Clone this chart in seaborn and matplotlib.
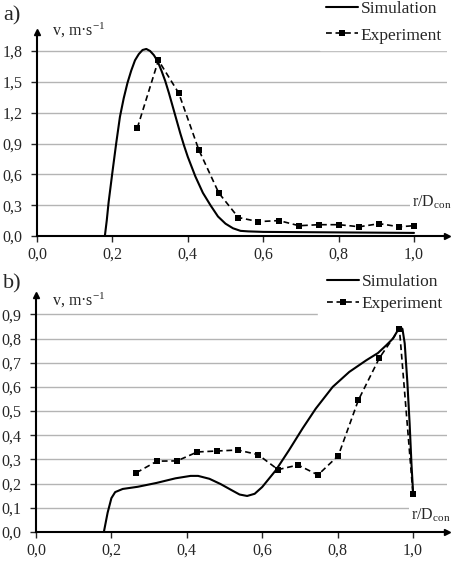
import matplotlib
matplotlib.use("Agg")
import matplotlib.pyplot as plt
import seaborn as sns

# ---- panel a) ----
a_sim_x = [0.18, 0.185, 0.19, 0.20, 0.21, 0.22, 0.23, 0.24, 0.25, 0.26, 0.27, 0.28, 0.29,
           0.30, 0.31, 0.32, 0.33, 0.34, 0.35, 0.36, 0.37, 0.38, 0.39, 0.40, 0.42, 0.44,
           0.46, 0.48, 0.50, 0.52, 0.54, 0.56, 0.60, 0.80, 1.00]
a_sim_v = [0.0, 0.15, 0.33, 0.62, 0.90, 1.16, 1.34, 1.49, 1.61, 1.71, 1.77, 1.81, 1.82,
           1.80, 1.76, 1.70, 1.61, 1.51, 1.39, 1.26, 1.13, 1.00, 0.88, 0.77, 0.58, 0.42,
           0.30, 0.19, 0.12, 0.075, 0.05, 0.045, 0.04, 0.035, 0.03]
a_exp_x = [0.266, 0.322, 0.376, 0.429, 0.482, 0.534, 0.587, 0.642, 0.695, 0.748,
           0.801, 0.855, 0.908, 0.960, 1.000]
a_exp_v = [1.05, 1.71, 1.39, 0.84, 0.42, 0.18, 0.14, 0.15, 0.10, 0.11,
           0.11, 0.09, 0.12, 0.09, 0.10]
a_yticks = [0.0, 0.3, 0.6, 0.9, 1.2, 1.5, 1.8]

# ---- panel b) ----
b_sim_x = [0.18, 0.19, 0.20, 0.21, 0.23, 0.27, 0.32, 0.37, 0.41, 0.43, 0.46, 0.49, 0.52,
           0.54, 0.56, 0.58, 0.60, 0.636, 0.671, 0.707, 0.742, 0.787, 0.831, 0.876,
           0.907, 0.929, 0.947, 0.960, 0.967, 0.972, 0.978, 0.985, 0.991, 0.996, 1.000]
b_sim_v = [0.0, 0.08, 0.14, 0.165, 0.178, 0.187, 0.203, 0.222, 0.232, 0.232, 0.22, 0.198,
           0.172, 0.155, 0.149, 0.158, 0.186, 0.255, 0.338, 0.428, 0.51, 0.60, 0.662,
           0.71, 0.74, 0.772, 0.80, 0.835, 0.845, 0.84, 0.78, 0.62, 0.45, 0.28, 0.17]
b_exp_x = [0.266, 0.321, 0.374, 0.428, 0.481, 0.535, 0.589, 0.642, 0.695, 0.748,
           0.802, 0.855, 0.911, 0.964, 1.000]
b_exp_v = [0.245, 0.293, 0.294, 0.331, 0.335, 0.339, 0.32, 0.258, 0.277, 0.236,
           0.316, 0.545, 0.72, 0.84, 0.156]
b_yticks = [0.0, 0.1, 0.2, 0.3, 0.4, 0.5, 0.6, 0.7, 0.8, 0.9]

xticks = [0.0, 0.2, 0.4, 0.6, 0.8, 1.0]

sns.set_style("white")
plt.rcParams["font.family"] = ["Liberation Serif", "DejaVu Serif"]
plt.rcParams["mathtext.default"] = "regular"
plt.rcParams["legend.numpoints"] = 1

W, H = 453, 563
fig = plt.figure(figsize=(W / 100, H / 100), dpi=100)


def comma(v, nd):
    return f"{v:.{nd}f}".replace(".", ",")


def draw_panel(ax, sim_x, sim_v, exp_x, exp_v, yticks, ymax, xmax,
               leg_x, leg_y, leg_pad, leg_space, rd_y, tag, tag_y, ylab_y):
    sns.lineplot(x=sim_x, y=sim_v, ax=ax, color="black", lw=1.5, sort=False,
                 estimator=None, label="Simulation")
    sns.lineplot(x=exp_x, y=exp_v, ax=ax, color="black", lw=1.2, sort=False,
                 estimator=None, linestyle=(0, (3.5, 2.2)), marker="s",
                 markersize=4.5, markeredgewidth=0, label="Experiment")

    ax.set_xlim(0, xmax)
    ax.set_ylim(0, ymax)
    ax.set_xticks(xticks)
    ax.set_xticklabels([comma(v, 1) for v in xticks])
    ax.set_yticks(yticks)
    ax.set_yticklabels([comma(v, 1) for v in yticks])
    ax.grid(axis="y", color="#b4b4b4", lw=1)
    ax.set_axisbelow(True)
    ax.tick_params(axis="x", direction="out", length=4, width=1, pad=4,
                   labelsize=11.5, bottom=True)
    ax.tick_params(axis="y", direction="out", length=4, width=1, pad=6.5,
                   labelsize=11.5, left=True)
    for s in ["top", "right"]:
        ax.spines[s].set_visible(False)
    for s in ["left", "bottom"]:
        ax.spines[s].set_color("black")
        ax.spines[s].set_linewidth(1.5)
    ax.set_xlabel("")
    ax.set_ylabel("")

    # arrow heads on the axes
    ax.plot(0, 1, marker="^", color="black", markersize=5, transform=ax.transAxes,
            clip_on=False)
    ax.plot(1, 0, marker=">", color="black", markersize=5, transform=ax.transAxes,
            clip_on=False)

    leg = ax.legend(loc="center left", bbox_to_anchor=(leg_x / W, leg_y),
                    bbox_transform=fig.transFigure, frameon=True, fontsize=12.5,
                    handlelength=1.85, handletextpad=0.15, borderpad=leg_pad,
                    labelspacing=leg_space, borderaxespad=0)
    leg.get_frame().set_facecolor("white")
    leg.get_frame().set_edgecolor("white")
    leg.get_frame().set_alpha(1)
    leg.get_frame().set_boxstyle("square", pad=0)

    ax.text(0.995, rd_y, r"r/D$_{con}$", fontsize=11.5, ha="left", va="center",
            bbox=dict(facecolor="white", edgecolor="none", pad=1.5), clip_on=False)

    fig.text(3 / W, tag_y, tag, fontsize=16, ha="left", va="center")
    fig.text(52 / W, ylab_y, r"v, m·s$^{-1}$", fontsize=11.5, ha="left", va="center")


ax_a = fig.add_axes([37 / W, 1 - 236 / H, 410 / W, (236 - 32) / H])
draw_panel(ax_a, a_sim_x, a_sim_v, a_exp_x, a_exp_v, a_yticks, 1.985, 410 / 377,
           leg_x=320, leg_y=1 - 22 / H, leg_pad=0.35, leg_space=0.62, rd_y=0.33,
           tag="a)", tag_y=1 - 16 / H, ylab_y=1 - 30 / H)

ax_b = fig.add_axes([36 / W, 1 - 532 / H, 411 / W, (532 - 295) / H])
draw_panel(ax_b, b_sim_x, b_sim_v, b_exp_x, b_exp_v, b_yticks, 0.98, 411 / 377,
           leg_x=318, leg_y=1 - 293 / H, leg_pad=0.5, leg_space=0.3, rd_y=0.07,
           tag="b)", tag_y=1 - 284 / H, ylab_y=1 - 300 / H)

fig.savefig("out.png", dpi=100)
